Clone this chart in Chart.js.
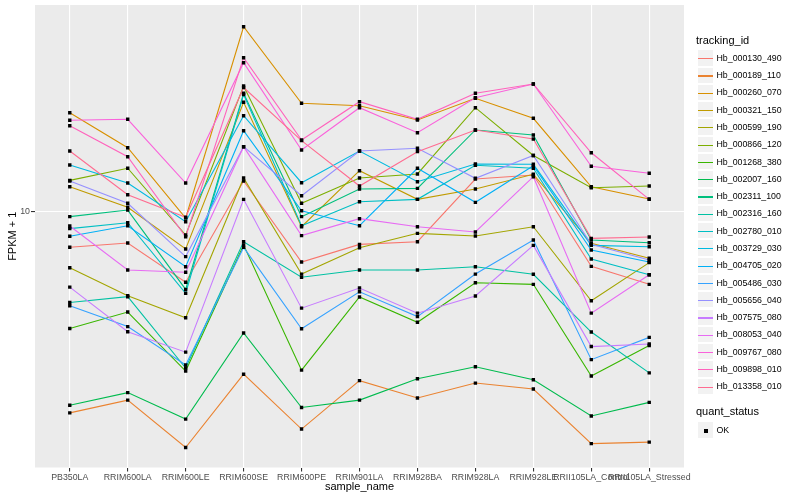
<!DOCTYPE html>
<html>
<head>
<meta charset="utf-8">
<script src="https://cdn.jsdelivr.net/npm/chart.js@4.4.1/dist/chart.umd.min.js"></script>
<style>
  html, body { margin: 0; padding: 0; background: #fff; }
  #wrap { position: relative; width: 800px; height: 500px; font-family: "Liberation Sans", Arial, sans-serif; }
  #c { position: absolute; left: 0; top: 0; }
  .ttl { position: absolute; left: 696px; font-size: 11px; line-height: 13px; color: #000; white-space: nowrap; }
  .key { position: absolute; left: 696.5px; width: 17.28px; height: 17.28px; background: #F2F2F2;
         box-sizing: border-box; border: 0.5px solid #fff; }
  .key i { position: absolute; left: 0; right: 0; top: 7.9px; height: 1.2px; }
  .key b { position: absolute; left: 6.7px; top: 6.7px; width: 3.5px; height: 3.5px; background: #000; }
  .lab { position: absolute; left: 716.5px; font-size: 8.8px; line-height: 10px; color: #000; white-space: nowrap; }
</style>
</head>
<body>
<div id="wrap">
  <canvas id="c" width="800" height="500"></canvas>
  <div id="legend"></div>
</div>
<script>
// x categories
const sampleNames = ['PB350LA', 'RRIM600LA', 'RRIM600LE', 'RRIM600SE', 'RRIM600PE', 'RRIM901LA',
                     'RRIM928BA', 'RRIM928LA', 'RRIM928LE', 'RRII105LA_Control', 'RRII105LA_Stressed'];

const trackingIds = ['Hb_000130_490', 'Hb_000189_110', 'Hb_000260_070', 'Hb_000321_150', 'Hb_000599_190',
                     'Hb_000866_120', 'Hb_001268_380', 'Hb_002007_160', 'Hb_002311_100', 'Hb_002316_160',
                     'Hb_002780_010', 'Hb_003729_030', 'Hb_004705_020', 'Hb_005486_030', 'Hb_005656_040',
                     'Hb_007575_080', 'Hb_008053_040', 'Hb_009767_080', 'Hb_009898_010', 'Hb_013358_010'];

// FPKM + 1, one value per sample
const hb000130_490 = [7.63, 7.88, 5.83, 12.69, 6.81, 7.80, 7.96, 12.88, 13.28, 6.59, 5.74];
const hb000189_110 = [2.14, 2.36, 1.64, 2.88, 1.89, 2.74, 2.40, 2.69, 2.57, 1.69, 1.71];
const hb000260_070 = [21.43, 16.38, 9.55, 41.46, 23.03, 22.61, 20.26, 23.93, 20.53, 12.14, 11.05];
const hb000321_150 = [12.14, 10.37, 7.53, 23.21, 8.93, 13.73, 11.02, 11.93, 13.36, 7.86, 7.01];
const hb000599_190 = [6.52, 5.26, 4.44, 12.98, 6.21, 7.60, 8.49, 8.32, 8.93, 5.06, 6.78];
const hb000866_120 = [12.75, 13.99, 8.38, 26.30, 10.69, 12.98, 13.39, 22.27, 15.43, 12.05, 12.21];
const hb001268_380 = [4.09, 4.64, 2.95, 7.76, 2.97, 5.21, 4.29, 5.81, 5.74, 2.84, 3.59];
const hb002007_160 = [2.27, 2.50, 2.04, 3.95, 2.23, 2.36, 2.78, 3.05, 2.76, 2.09, 2.32];
const hb002311_100 = [9.65, 10.15, 5.52, 24.87, 9.65, 11.93, 11.99, 18.77, 18.06, 8.07, 7.90];
const hb002316_160 = [4.99, 5.22, 3.02, 7.96, 6.06, 6.41, 6.41, 6.57, 6.20, 3.98, 2.91];
const hb002780_010 = [8.80, 9.21, 5.36, 24.64, 9.00, 10.82, 11.02, 14.31, 13.99, 6.97, 6.18];
const hb003729_030 = [14.35, 12.49, 9.28, 20.94, 12.52, 15.97, 12.62, 14.45, 14.42, 7.74, 7.66];
const hb004705_020 = [8.30, 9.00, 6.57, 18.66, 10.10, 9.00, 13.99, 10.77, 14.27, 7.47, 6.81];
const hb005486_030 = [4.87, 4.15, 3.09, 7.62, 4.08, 5.42, 4.48, 6.21, 8.07, 3.22, 3.82];
const hb005656_040 = [12.69, 10.69, 7.10, 16.51, 11.33, 15.97, 16.31, 12.95, 15.43, 7.80, 6.92];
const hb007575_080 = [5.62, 3.99, 3.41, 11.02, 4.78, 5.58, 4.60, 5.25, 7.74, 3.56, 3.63];
const hb008053_040 = [8.98, 6.41, 6.30, 16.51, 8.34, 9.50, 8.93, 8.58, 13.11, 4.60, 6.18];
const hb009767_080 = [20.22, 20.37, 12.49, 31.45, 16.09, 22.27, 18.38, 24.04, 26.71, 14.20, 13.46];
const hb009898_010 = [19.39, 15.29, 8.27, 32.69, 17.38, 23.32, 20.37, 24.87, 26.71, 15.76, 11.02];
const hb013358_010 = [15.97, 11.42, 9.60, 26.00, 17.29, 12.21, 15.89, 18.77, 17.51, 8.17, 8.25];

const seriesValues = [hb000130_490, hb000189_110, hb000260_070, hb000321_150, hb000599_190,
                      hb000866_120, hb001268_380, hb002007_160, hb002311_100, hb002316_160,
                      hb002780_010, hb003729_030, hb004705_020, hb005486_030, hb005656_040,
                      hb007575_080, hb008053_040, hb009767_080, hb009898_010, hb013358_010];

const yTicks = [10];

// ggplot default hue palette for 20 levels
const palette = ['#F8766D', '#EA8331', '#D89000', '#C09B00', '#A3A500', '#7CAE00', '#39B600', '#00BB4E',
                 '#00BF7D', '#00C1A3', '#00BFC4', '#00BAE0', '#00B0F6', '#35A2FF', '#9590FF', '#C77CFF',
                 '#E76BF3', '#FA62DB', '#FF62BC', '#FF6C91'];

const FONT = '"Liberation Sans", Arial, sans-serif';

// grey panel behind the grid
const panelBg = {
  id: 'panelBg',
  beforeDraw(chart) {
    const a = chart.chartArea;
    const ctx = chart.ctx;
    ctx.save();
    ctx.fillStyle = '#EBEBEB';
    ctx.fillRect(a.left, a.top, a.right - a.left, a.bottom - a.top);
    ctx.restore();
  }
};

const toPoints = (vals) => vals.map((v, j) => ({ x: j, y: v }));

// lines first (later levels on top), then all the points above them
const lineSets = seriesValues.map((vals, i) => ({
  label: trackingIds[i],
  data: toPoints(vals),
  borderColor: palette[i],
  borderWidth: 1.1,
  pointRadius: 0,
  tension: 0,
  fill: false,
  order: 100 - i,
}));
const pointSets = seriesValues.map((vals, i) => ({
  label: trackingIds[i] + ' OK',
  data: toPoints(vals),
  showLine: false,
  pointStyle: 'rect',
  pointRadius: 2.4,
  pointBorderWidth: 0,
  pointBackgroundColor: '#000',
  pointBorderColor: '#000',
  order: 0,
}));

new Chart(document.getElementById('c'), {
  type: 'line',
  data: { datasets: lineSets.concat(pointSets) },
  plugins: [panelBg],
  options: {
    responsive: false,
    devicePixelRatio: 1,
    animation: false,
    events: [],
    layout: { padding: { top: 5, right: 116, left: 0, bottom: 0 } },
    plugins: { legend: { display: false }, tooltip: { enabled: false } },
    scales: {
      x: {
        type: 'linear',
        min: -0.6,
        max: 10.6,
        afterBuildTicks: (axis) => { axis.ticks = sampleNames.map((_, i) => ({ value: i })); },
        afterFit: (axis) => { axis.height = 32.5; axis.paddingLeft = 0; axis.paddingRight = 0; },
        ticks: {
          autoSkip: false, maxRotation: 0, minRotation: 0, padding: 1,
          color: '#4D4D4D', font: { family: FONT, size: 8.8 },
          callback: (v) => sampleNames[v],
        },
        grid: { color: '#FFFFFF', lineWidth: 1.1, tickLength: 4, tickColor: '#333333', tickWidth: 1.1 },
        border: { display: false },
        title: { display: true, text: 'sample_name', color: '#000', font: { family: FONT, size: 11 },
                 padding: { top: 0, bottom: 6 } },
      },
      y: {
        type: 'logarithmic',
        min: 1.4071,
        max: 48.98,
        afterBuildTicks: (axis) => { axis.ticks = yTicks.map((v) => ({ value: v })); },
        afterFit: (axis) => { axis.width = 35; axis.paddingTop = 0; axis.paddingBottom = 0; },
        ticks: { padding: 1, color: '#4D4D4D', font: { family: FONT, size: 8.8 }, callback: (v) => String(v) },
        grid: { color: '#FFFFFF', lineWidth: 1.1, tickLength: 4, tickColor: '#333333', tickWidth: 1.1 },
        border: { display: false },
        title: { display: true, text: 'FPKM + 1', color: '#000', font: { family: FONT, size: 11 },
                 padding: { top: 6, bottom: 0 } },
      },
    },
  },
});

// ggplot-style legends on the right
const legend = document.getElementById('legend');
let html = '<div class="ttl" style="top:34px">tracking_id</div>';
trackingIds.forEach((id, i) => {
  const top = 49.3 + 17.28 * i;
  html += `<div class="key" style="top:${top}px"><i style="background:${palette[i]}"></i></div>`;
  html += `<div class="lab" style="top:${top + 3.6}px">${id}</div>`;
});
html += '<div class="ttl" style="top:405px">quant_status</div>';
html += '<div class="key" style="top:421.4px"><b></b></div>';
html += '<div class="lab" style="top:425px">OK</div>';
legend.innerHTML = html;
</script>
</body>
</html>
